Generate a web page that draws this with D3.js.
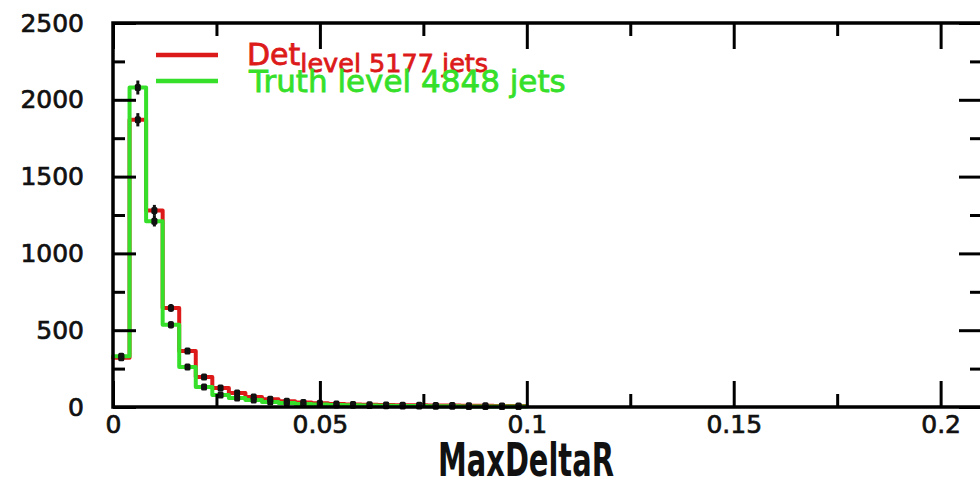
<!DOCTYPE html>
<html>
<head>
<meta charset="utf-8">
<script src="https://cdn.jsdelivr.net/npm/d3@7"></script>
<style>
  body { margin: 0; background: #fff; }
  svg { display: block; }
  text { font-family: "DejaVu Sans", sans-serif; }
</style>
</head>
<body>
<svg id="chart" width="980" height="493"></svg>
<script>

//// DATA

// histogram binning along MaxDeltaR
var binWidth = 0.004;
// detector level counts per bin (red)
var detCounts = [320, 1870, 1280, 645, 365, 195, 124, 91, 65, 50, 38, 30, 24,
                 20, 17, 15, 13, 12, 11, 10, 9, 8, 8, 7, 6];
// truth level counts per bin (green)
var truthCounts = [330, 2080, 1210, 535, 260, 130, 78, 59, 45, 33, 26, 20, 16,
                   13, 11, 9, 8, 7, 6, 5, 5, 4, 4, 3, 3];
// axis ticks
var xMajorTicks = [0, 0.05, 0.1, 0.15, 0.2];
var xMinorTicks = [0.025, 0.075, 0.125, 0.175];
var yMajorTicks = [0, 500, 1000, 1500, 2000, 2500];
var yMinorTicks = [250, 750, 1250, 1750, 2250];
// legend entries
var legendMain = ["Det", "Truth level 4848 jets"];
var legendSub = ["level 5177 jets", ""];

var redCol = "#dd1a1a";
var greenCol = "#36e02a";


//// MAIN

var svg = d3.select("#chart");

var x = d3.scaleLinear().domain([0, 0.21]).range([113, 982]);
var y = d3.scaleLinear().domain([0, 2500]).range([407, 23]);

// histogram outlines
drawHisto(detCounts, redCol);
drawHisto(truthCounts, greenCol);

// black data points with sqrt(N) errors
drawPoints(detCounts);
drawPoints(truthCounts);

// frame and ticks
drawFrame();

// legend
drawLegend();

// x title
var title = svg.append("text")
    .attr("x", 0).attr("y", 0)
    .attr("font-size", 47)
    .attr("font-weight", "bold")
    .attr("fill", "#111")
    .text("MaxDeltaR");
var tw = title.node().getComputedTextLength();
var sx = 176 / tw;
title.attr("transform", "translate(438,476) scale(" + sx + ",1)");


//// FUNCTIONS

///////////////////////////////////
// Step outline for one histogram
function drawHisto(counts, col){
///////////////////////////////////
    var pts = counts.map(function(d, i){ return [i * binWidth, d]; });
    pts.push([counts.length * binWidth, counts[counts.length - 1]]);

    var line = d3.line()
        .x(function(d){ return x(d[0]); })
        .y(function(d){ return y(d[1]); })
        .curve(d3.curveStepAfter);

    svg.append("path")
        .datum(pts)
        .attr("d", line)
        .attr("fill", "none")
        .attr("stroke", col)
        .attr("stroke-width", 4)
        .attr("stroke-linejoin", "round")
        .attr("stroke-linecap", "round");
}

///////////////////////////////////
// Black markers with error bars
function drawPoints(counts){
///////////////////////////////////
    var g = svg.append("g");
    var cx = function(d, i){ return x((i + 0.5) * binWidth); };

    g.selectAll("line")
        .data(counts)
        .enter()
        .append("line")
        .attr("x1", cx).attr("x2", cx)
        .attr("y1", function(d){ return y(d + Math.sqrt(d)); })
        .attr("y2", function(d){ return y(Math.max(0, d - Math.sqrt(d))); })
        .attr("stroke", "#111")
        .attr("stroke-width", 3);

    g.selectAll("rect")
        .data(counts)
        .enter()
        .append("rect")
        .attr("x", function(d, i){ return cx(d, i) - 3; })
        .attr("y", function(d){ return y(d) - 3.5; })
        .attr("width", 6)
        .attr("height", 7)
        .attr("rx", 1.5)
        .attr("fill", "#111");
}

///////////////////////////////////
// Frame, inward ticks and labels
function drawFrame(){
///////////////////////////////////
    var x0 = x.range()[0], x1 = x.range()[1];
    var y0 = y.range()[0], y1 = y.range()[1];

    // bottom
    svg.append("g").attr("transform", "translate(0," + y0 + ")")
        .call(d3.axisBottom(x).tickValues(xMajorTicks).tickSize(-26).tickFormat(""));
    svg.append("g").attr("transform", "translate(0," + y0 + ")")
        .call(d3.axisBottom(x).tickValues(xMinorTicks).tickSize(-13).tickFormat(""));
    // top
    svg.append("g").attr("transform", "translate(0," + y1 + ")")
        .call(d3.axisTop(x).tickValues(xMajorTicks).tickSize(-26).tickFormat(""));
    svg.append("g").attr("transform", "translate(0," + y1 + ")")
        .call(d3.axisTop(x).tickValues(xMinorTicks).tickSize(-13).tickFormat(""));
    // left
    svg.append("g").attr("transform", "translate(" + x0 + ",0)")
        .call(d3.axisLeft(y).tickValues(yMajorTicks).tickSize(-23).tickFormat(""));
    svg.append("g").attr("transform", "translate(" + x0 + ",0)")
        .call(d3.axisLeft(y).tickValues(yMinorTicks).tickSize(-12).tickFormat(""));
    // right
    svg.append("g").attr("transform", "translate(" + x1 + ",0)")
        .call(d3.axisRight(y).tickValues(yMajorTicks).tickSize(-23).tickFormat(""));
    svg.append("g").attr("transform", "translate(" + x1 + ",0)")
        .call(d3.axisRight(y).tickValues(yMinorTicks).tickSize(-12).tickFormat(""));

    svg.selectAll(".tick line").attr("stroke", "#000").attr("stroke-width", 3);
    svg.selectAll(".domain").remove();

    // frame box
    svg.append("rect")
        .attr("x", x0).attr("y", y1)
        .attr("width", x1 - x0).attr("height", y0 - y1)
        .attr("fill", "none")
        .attr("stroke", "#000")
        .attr("stroke-width", 3.5);

    // labels
    var xl = svg.append("g").attr("transform", "translate(0," + y0 + ")")
        .call(d3.axisBottom(x).tickValues(xMajorTicks).tickSize(0).tickPadding(8)
              .tickFormat(function(d){ return String(d); }));
    var yl = svg.append("g").attr("transform", "translate(" + x0 + ",0)")
        .call(d3.axisLeft(y).tickValues(yMajorTicks).tickSize(0).tickPadding(29)
              .tickFormat(d3.format("d")));
    xl.select(".domain").remove();
    yl.select(".domain").remove();
    svg.selectAll(".tick text")
        .attr("font-family", "DejaVu Sans, sans-serif")
        .attr("font-size", 25)
        .attr("fill", "#111")
        .attr("stroke", "#111")
        .attr("stroke-width", 0.7);
}

///////////////////////////////////
// Legend lines and texts
function drawLegend(){
///////////////////////////////////
    var cols = [redCol, greenCol];
    var ly = [55, 81];
    var base = [65, 92];

    for (var i = 0; i < legendMain.length; i++){
        svg.append("line")
            .attr("x1", 156).attr("x2", 218)
            .attr("y1", ly[i]).attr("y2", ly[i])
            .attr("stroke", cols[i])
            .attr("stroke-width", 4.5);
    }

    // Det with subscript
    var t0 = svg.append("text")
        .attr("x", 247).attr("y", base[0])
        .attr("fill", redCol)
        .attr("stroke", redCol)
        .attr("stroke-width", 0.8)
        .attr("font-size", 30)
        .text(legendMain[0]);
    t0.append("tspan")
        .attr("font-size", 25.5)
        .attr("dy", 7)
        .text(legendSub[0]);

    svg.append("text")
        .attr("x", 249).attr("y", base[1])
        .attr("fill", greenCol)
        .attr("stroke", greenCol)
        .attr("stroke-width", 0.8)
        .attr("font-size", 31)
        .text(legendMain[1]);
}

</script>
</body>
</html>
